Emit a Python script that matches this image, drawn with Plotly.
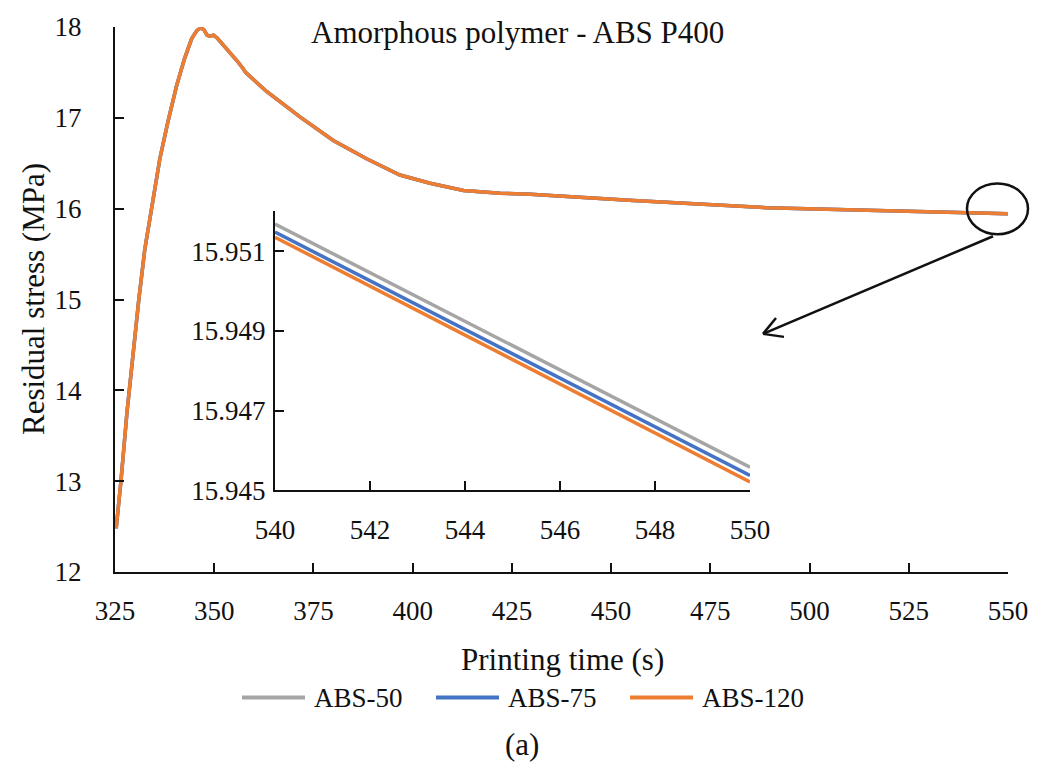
import plotly.graph_objects as go

# ---------------- data ----------------
series_names = ["ABS-50", "ABS-75", "ABS-120"]
series_colors = ["#A5A5A5", "#4472C4", "#ED7D31"]

main_time = [325.3, 326.5, 328.0, 329.5, 331.0, 332.5, 334.3, 336.3, 338.3, 340.5,
             342.5, 344.3, 345.6, 346.6, 347.4, 348.2, 349.0, 349.8, 350.7, 353.2,
             355.9, 357.3, 357.9, 363.2, 371.6, 380.0, 388.4, 396.8, 404.4, 412.8,
             422.0, 429.6, 455.6, 489.2, 522.8, 540.0, 550.0]
main_stress = [12.48, 13.00, 13.75, 14.40, 15.00, 15.55, 16.05, 16.55, 16.95, 17.35,
               17.65, 17.87, 17.96, 17.99, 17.97, 17.91, 17.90, 17.91, 17.88, 17.76,
               17.62, 17.54, 17.50, 17.29, 17.01, 16.75, 16.55, 16.37, 16.28, 16.20,
               16.17, 16.16, 16.09, 16.01, 15.97, 15.951, 15.945]

inset_time = [540, 545, 550]
inset_abs50 = [15.95168, 15.94863, 15.94558]
inset_abs75 = [15.95148, 15.94843, 15.94537]
inset_abs120 = [15.95135, 15.94828, 15.94521]

main_xticks = [325, 350, 375, 400, 425, 450, 475, 500, 525, 550]
main_yticks = [12, 13, 14, 15, 16, 17, 18]
inset_xticks = [540, 542, 544, 546, 548, 550]
inset_yticks = [15.945, 15.947, 15.949, 15.951]

# ---------------- layout geometry (pixels) ----------------
W, H = 1048, 762
L, R, T, B = 115, 40, 25, 190
PW, PH = W - L - R, H - T - B


def px(x):
    return (x - L) / PW


def py(y):
    return (H - B - y) / PH


FONT = "Liberation Serif"
FS = 27
FS_TXT = 31
BLACK = "#111111"

fig = go.Figure()

# main traces
for name, col in zip(series_names, series_colors):
    fig.add_trace(go.Scatter(x=main_time, y=main_stress, mode="lines", name=name,
                             line=dict(color=col, width=3.5), showlegend=False,
                             xaxis="x", yaxis="y"))

# inset traces
for name, col, vals in zip(series_names, series_colors,
                           [inset_abs50, inset_abs75, inset_abs120]):
    fig.add_trace(go.Scatter(x=inset_time, y=vals, mode="lines", name=name,
                             line=dict(color=col, width=3.5), showlegend=False,
                             xaxis="x2", yaxis="y2"))

axis_common = dict(showgrid=False, zeroline=False, showline=True, linecolor=BLACK,
                   linewidth=2, ticks="inside", ticklen=9, tickwidth=2, tickcolor=BLACK,
                   tickfont=dict(family=FONT, size=FS, color=BLACK))

fig.update_layout(
    width=W, height=H,
    margin=dict(l=L, r=R, t=T, b=B),
    plot_bgcolor="white", paper_bgcolor="white",
    xaxis=dict(range=[325, 550], tickvals=main_xticks, ticklabelstandoff=14,
               **axis_common),
    yaxis=dict(range=[12, 18], tickvals=main_yticks, ticklabelstandoff=26,
               **axis_common),
    xaxis2=dict(domain=[px(275), px(750)], anchor="y2", range=[540, 550],
                tickvals=inset_xticks, ticklabelstandoff=14, **axis_common),
    yaxis2=dict(domain=[py(490), py(210)], anchor="x2", range=[15.945, 15.952],
                tickvals=inset_yticks, tickformat=".3f", ticklabelstandoff=2,
                **axis_common),
)


def txt(text, x, y, size=FS_TXT, xanchor="center", angle=0):
    return dict(text=text, x=px(x), y=py(y), xref="paper", yref="paper",
                xanchor=xanchor, yanchor="middle", showarrow=False, textangle=angle,
                font=dict(family=FONT, size=size, color=BLACK))


annotations = [
    txt("Amorphous polymer - ABS P400", 517, 31),
    txt("Residual stress (MPa)", 33, 298, angle=-90),
    txt("Printing time (s)", 562, 660),
    txt("(a)", 522, 745),
]

shapes = []
# circle highlight
shapes.append(dict(type="circle", xref="paper", yref="paper",
                   x0=px(967), x1=px(1028), y0=py(233), y1=py(182),
                   line=dict(color=BLACK, width=2.5)))
# arrow line + open head
head = (763, 333)
tail = (993, 235)
shapes.append(dict(type="line", xref="paper", yref="paper",
                   x0=px(tail[0]), y0=py(tail[1]), x1=px(head[0]), y1=py(head[1]),
                   line=dict(color=BLACK, width=2.5)))
for arm in [(776, 317), (784, 336)]:
    shapes.append(dict(type="line", xref="paper", yref="paper",
                       x0=px(head[0]), y0=py(head[1]), x1=px(arm[0]), y1=py(arm[1]),
                       line=dict(color=BLACK, width=2.5)))

# custom legend
leg_y = 698
leg_items = [(242, 305, 312), (436, 499, 506), (630, 693, 700)]
for (x0, x1, xt), name, col in zip(leg_items, series_names, series_colors):
    shapes.append(dict(type="line", xref="paper", yref="paper",
                       x0=px(x0), x1=px(x1), y0=py(leg_y), y1=py(leg_y),
                       line=dict(color=col, width=4)))
    annotations.append(txt(name, xt, leg_y, size=FS, xanchor="left"))

fig.update_layout(annotations=annotations, shapes=shapes)

fig.write_html("out.html")
